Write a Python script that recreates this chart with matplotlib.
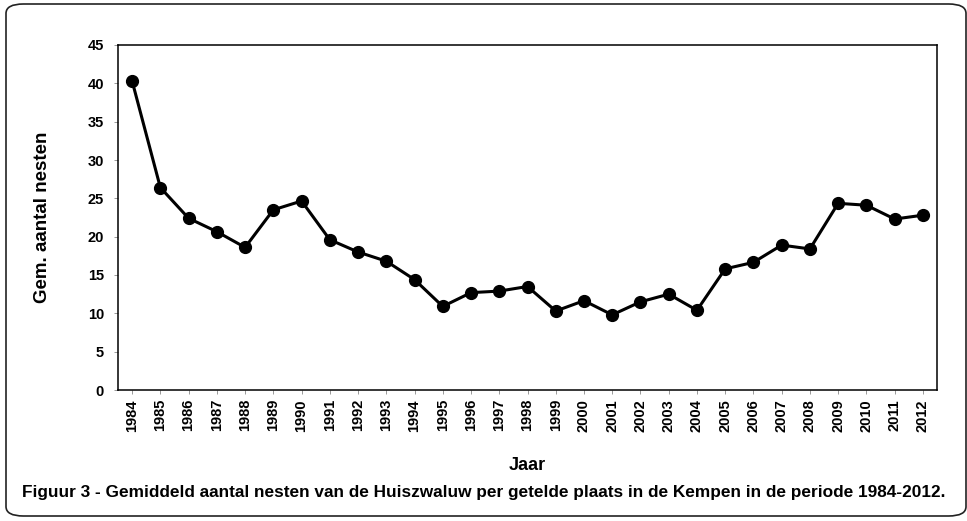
import matplotlib
matplotlib.use('Agg')
import matplotlib.pyplot as plt
from matplotlib.patches import FancyBboxPatch

plt.rcParams['font.family'] = ['Liberation Sans', 'DejaVu Sans']
plt.rcParams['font.weight'] = 'bold'

# gemiddeld aantal nesten per jaar
years = list(range(1984, 2013))
nests = [40.3, 26.4, 22.4, 20.65, 18.6, 23.5, 24.65, 19.6, 18.0, 16.8,
         14.4, 10.9, 12.7, 12.9, 13.5, 10.3, 11.65, 9.8, 11.5, 12.5,
         10.4, 15.8, 16.65, 18.9, 18.4, 24.35, 24.1, 22.3, 22.8]
yticks = [0, 5, 10, 15, 20, 25, 30, 35, 40, 45]

W, H = 967, 521
fig = plt.figure(figsize=(W / 100, H / 100), dpi=100)

# afgeronde kader rond de figuur
frame = FancyBboxPatch((6 / W, 5 / H), 960 / W, 512 / H,
                       boxstyle='round,pad=0,rounding_size=0.018',
                       transform=fig.transFigure, fill=False,
                       edgecolor='#222222', linewidth=1.2)
fig.patches.append(frame)

ax = fig.add_axes([118 / W, 1 - 390 / H, (937 - 118) / W, (390 - 45) / H])
x = list(range(len(years)))
ax.plot(x, nests, color='black', linewidth=2.2, marker='o', markersize=8.5)

ax.set_xlim(-0.5, len(years) - 0.5)
ax.set_ylim(0, 45)
ax.set_yticks(yticks)
ax.set_xticks(x)
ax.set_xticklabels([str(y) for y in years], rotation=90)
ax.tick_params(axis='both', labelsize=10.5, length=3, width=0.6, color='#888888')
ax.tick_params(axis='y', pad=7)
for lbl in ax.get_xticklabels() + ax.get_yticklabels():
    lbl.set_fontweight('bold')
for s in ax.spines.values():
    s.set_linewidth(1.1)

ax.set_xlabel('Jaar', fontsize=13, fontweight='bold', labelpad=18)
ax.set_ylabel('Gem. aantal nesten', fontsize=13.5, fontweight='bold')
ax.yaxis.set_label_coords(-0.082, 0.5)

fig.text(0.5, 1 - 493 / H,
         'Figuur 3 - Gemiddeld aantal nesten van de Huiszwaluw per getelde plaats in de Kempen in de periode 1984-2012.',
         ha='center', va='center', fontsize=12.4, fontweight='bold')

fig.savefig('out.png', dpi=100)
